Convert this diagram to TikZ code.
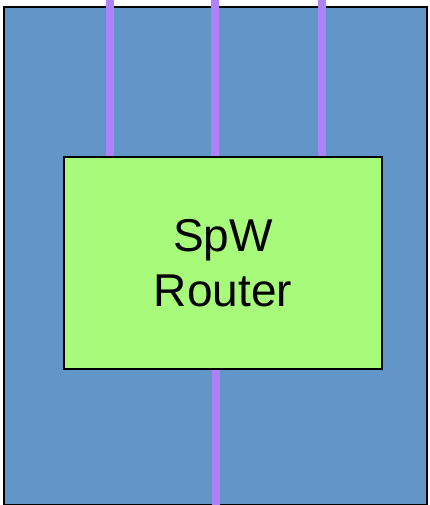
\documentclass[tikz,border=0pt]{standalone}
\usepackage{fontspec}
\setmainfont{Liberation Sans}
\usetikzlibrary{positioning,calc}
\definecolor{boardblue}{RGB}{98,150,200}
\definecolor{routergreen}{RGB}{168,250,122}
\definecolor{linkpurple}{RGB}{176,130,250}
\pgfdeclarelayer{back}
\pgfdeclarelayer{mid}
\pgfsetlayers{back,mid,main}
\tikzset{
  boardbox/.style={draw=black, line width=1.6pt, fill=boardblue, inner sep=0pt},
  routerbox/.style={draw=black, line width=2pt, fill=routergreen, inner sep=0pt,
    align=center, font=\fontsize{46}{55}\selectfont},
  link/.style={linkpurple, line width=8pt}
}
\begin{document}
\begin{tikzpicture}[x=1pt, y=-1pt]
\useasboundingbox (0,0) rectangle (429,505);
\begin{pgfonlayer}{back}
\node[boardbox, minimum width=423pt, minimum height=498pt] (board) at (215.5,256) {};
\end{pgfonlayer}
\node[routerbox, minimum width=318pt, minimum height=212pt] (router) at (223,263) {SpW\\Router};
\coordinate (in1) at (110,0);
\coordinate (in2) at (215,0);
\coordinate (in3) at (322,0);
\coordinate (out) at (216,505);
\begin{pgfonlayer}{mid}
\foreach \p in {in1,in2,in3}
  \draw[link] (\p) -- (\p |- router.north);
\draw[link] (out |- router.south) -- (out);
\end{pgfonlayer}
\end{tikzpicture}
\end{document}
